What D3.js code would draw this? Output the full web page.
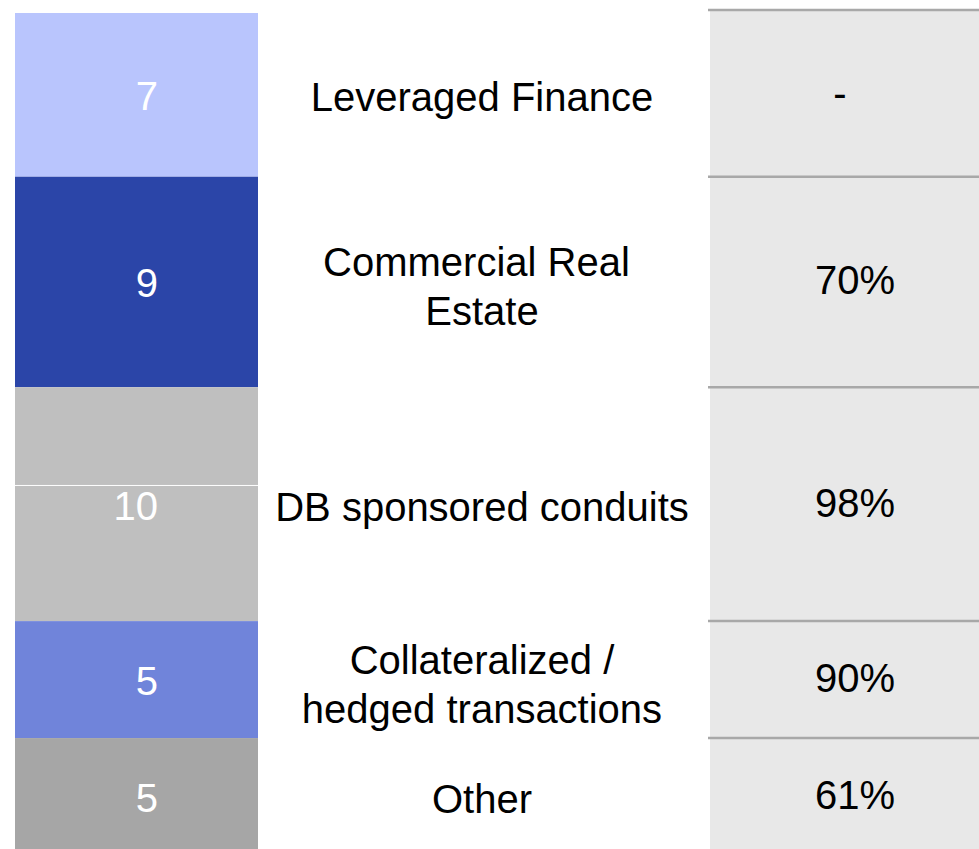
<!DOCTYPE html>
<html>
<head>
<meta charset="utf-8">
<script src="https://cdn.jsdelivr.net/npm/d3@7/dist/d3.min.js"></script>
<style>
  html, body { margin: 0; padding: 0; background: #ffffff; }
  svg { display: block; }
  text { font-family: "Liberation Sans", Arial, sans-serif; }
</style>
</head>
<body>
<svg id="chart" width="979" height="849"></svg>
<script>
// ---- data ----
const categories = [
  ["Leveraged Finance"],
  ["Commercial Real ", "Estate"],
  ["DB sponsored conduits"],
  ["Collateralized /", "hedged transactions"],
  ["Other"]
];
const values = [7, 9, 10, 5, 5];
const shares = ["-", "70%", "98%", "90%", "61%"];
const colors = ["#b9c5fd", "#2b45a8", "#bfbfbf", "#7084da", "#a6a6a6"];
const conduitSplit = 4.2; // thin white divider inside the conduits segment (units from its top)

// ---- layout ----
const svg = d3.select("#chart");
const W = 979, H = 849;
const total = d3.sum(values);
const y = d3.scaleLinear().domain([0, total]).range([13, 855]);
const x = d3.scaleLinear().domain([0, 1]).range([15, 258]);

let cum = 0;
const segs = values.map((v, i) => {
  const s = { i, v, y0: cum, y1: cum + v, label: categories[i], share: shares[i], color: colors[i] };
  cum += v;
  return s;
});

// right-hand panel
svg.append("rect")
  .attr("x", 710).attr("y", 11)
  .attr("width", W - 710).attr("height", H - 11)
  .attr("fill", "#e8e8e8");

svg.selectAll("line.row")
  .data(segs)
  .enter().append("line")
  .attr("class", "row")
  .attr("x1", 708).attr("x2", W)
  .attr("y1", d => d.i === 0 ? y(d.y0) - 3 : y(d.y0))
  .attr("y2", d => d.i === 0 ? y(d.y0) - 3 : y(d.y0))
  .attr("stroke", "#a8a8a8")
  .attr("stroke-width", 2.5);

// stacked bar
svg.selectAll("rect.seg")
  .data(segs)
  .enter().append("rect")
  .attr("class", "seg")
  .attr("x", x(0))
  .attr("width", x(1) - x(0))
  .attr("y", d => y(d.y0))
  .attr("height", d => y(d.y1) - y(d.y0))
  .attr("fill", d => d.color);

// divider in the conduits segment
const cond = segs[2];
svg.append("line")
  .attr("x1", x(0)).attr("x2", x(1))
  .attr("y1", y(cond.y0 + conduitSplit)).attr("y2", y(cond.y0 + conduitSplit))
  .attr("stroke", "#ffffff").attr("stroke-width", 1);

const fs = 40;
const baseOff = 14.5;
const lineH = 49;

// values in bar
svg.selectAll("text.val")
  .data(segs)
  .enter().append("text")
  .attr("class", "val")
  .attr("x", 158)
  .attr("y", d => (y(d.y0) + y(Math.min(d.y1, total))) / 2 + baseOff + 1)
  .attr("text-anchor", "end")
  .attr("font-size", fs)
  .attr("fill", "#ffffff")
  .text(d => d.v);

// category labels
segs.forEach(d => {
  const cy = (y(d.y0) + y(d.y1)) / 2 + (d.label.length > 1 ? 2 : 0);
  const n = d.label.length;
  const t = svg.append("text")
    .attr("x", 482)
    .attr("text-anchor", "middle")
    .attr("font-size", fs)
    .attr("fill", "#000000")
    .attr("xml:space", "preserve")
    .style("white-space", "pre");
  d.label.forEach((ln, k) => {
    t.append("tspan")
      .attr("x", 482)
      .attr("y", cy + baseOff + 2 + (k - (n - 1) / 2) * lineH)
      .text(ln);
  });
});

// share column
svg.selectAll("text.share")
  .data(segs)
  .enter().append("text")
  .attr("class", "share")
  .attr("x", d => d.share === "-" ? 840 : 855)
  .attr("y", d => (y(d.y0) + y(d.y1)) / 2 + baseOff - 2)
  .attr("text-anchor", "middle")
  .attr("font-size", fs)
  .attr("fill", "#000000")
  .text(d => d.share);
</script>
</body>
</html>
